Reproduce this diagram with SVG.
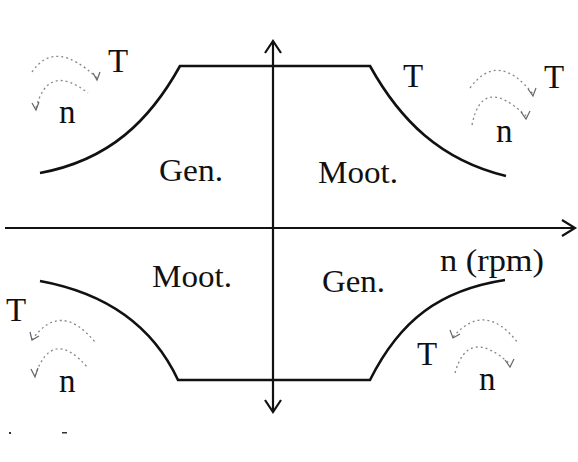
<svg xmlns="http://www.w3.org/2000/svg" width="578" height="462" viewBox="0 0 578 462">
<style>
.ax{stroke:#111;stroke-width:2.2;fill:none}
.cv{stroke:#111;stroke-width:2.6;fill:none}
.da{stroke:#888;stroke-width:1.3;fill:none;stroke-dasharray:2 3}
.ah{stroke:#666;stroke-width:1.2;fill:none}
text{font-family:"Liberation Serif","Times New Roman",serif;fill:#111}
.lb{font-size:31px}
.tl{font-size:33px}
</style>
<rect width="578" height="462" fill="#fff"/>
<g id="connectors">
<path class="ax" d="M273 42 V411"/>
<path class="ax" d="M265 53 L273 41 L281 53"/>
<path class="ax" d="M265 400 L273 412 L281 400"/>
<path class="ax" d="M5 228 H574"/>
<path class="ax" d="M562 220 L575 228 L562 236"/>
</g>
<g id="curve-top">
<path class="cv" d="M40 173 C110 160 150 120 180 66 H370 C400 120 440 160 506 176"/>
</g>
<g id="curve-bottom">
<path class="cv" d="M40 281 C100 292 150 320 178 380 H370 C400 320 440 290 505 280"/>
</g>
<g id="quadrant-labels">
<text class="lb" x="159" y="181" textLength="64" lengthAdjust="spacingAndGlyphs">Gen.</text>
<text class="lb" x="318" y="183" textLength="80" lengthAdjust="spacingAndGlyphs">Moot.</text>
<text class="lb" x="152" y="287" textLength="80" lengthAdjust="spacingAndGlyphs">Moot.</text>
<text class="lb" x="322" y="292" textLength="63" lengthAdjust="spacingAndGlyphs">Gen.</text>
<text class="lb" x="440" y="271" textLength="104" lengthAdjust="spacingAndGlyphs">n (rpm)</text>
</g>
<g id="rot-top-left">
<path class="da" d="M32 72 Q55 38 97 78"/>
<path class="ah" d="M93 73 L97 80 L100 72"/>
<path class="da" d="M36 108 Q48 62 88 93"/>
<path class="ah" d="M32 103 L36 110 L39 102"/>
<text class="tl" x="108" y="72">T</text>
<text class="tl" x="59" y="123">n</text>
</g>
<g id="rot-top-right">
<path class="da" d="M470 88 Q498 50 533 94"/>
<path class="ah" d="M528 89 L533 96 L536 88"/>
<path class="da" d="M472 125 Q482 74 526 116"/>
<path class="ah" d="M521 112 L526 119 L530 111"/>
<text class="tl" x="403" y="87">T</text>
<text class="tl" x="544" y="88">T</text>
<text class="tl" x="496" y="142">n</text>
</g>
<g id="rot-bottom-left">
<path class="da" d="M32 340 Q60 300 95 342"/>
<path class="ah" d="M30 332 L32 340 L39 336"/>
<path class="da" d="M35 376 Q52 326 88 368"/>
<path class="ah" d="M31 369 L35 377 L38 368"/>
<text class="tl" x="6" y="321">T</text>
<text class="tl" x="59" y="392">n</text>
</g>
<g id="rot-bottom-right">
<path class="da" d="M453 337 Q485 300 518 343"/>
<path class="ah" d="M450 330 L453 338 L460 334"/>
<path class="da" d="M455 373 Q468 326 510 364"/>
<path class="ah" d="M505 360 L510 367 L514 359"/>
<text class="tl" x="417" y="365">T</text>
<text class="tl" x="479" y="390">n</text>
</g>
<g id="specks">
<rect x="9" y="432" width="2" height="2" fill="#333"/>
<rect x="62" y="432" width="5" height="1.5" fill="#333"/>
</g>
</svg>
